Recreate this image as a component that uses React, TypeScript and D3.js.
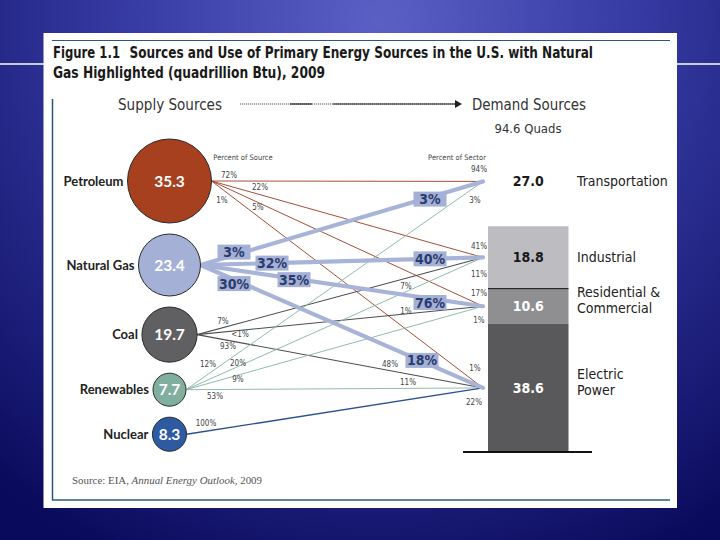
import * as d3 from 'd3';

// Supply side (quadrillion Btu)
const sources = ['Petroleum', 'Natural Gas', 'Coal', 'Renewables', 'Nuclear'];
const sourceQuads = [35.3, 23.4, 19.7, 7.7, 8.3];

// Demand side (quadrillion Btu)
const sectors = ['Transportation', 'Industrial', 'Residential & Commercial', 'Electric Power'];
const sectorLabelLines = [['Transportation'], ['Industrial'], ['Residential &', 'Commercial'], ['Electric', 'Power']];
const sectorQuads = [27.0, 18.8, 10.6, 38.6];
const totalQuads = '94.6 Quads';

// flows: percent of source / percent of sector
const flows = [
  { from: 'Petroleum', to: 'Transportation', ofSource: '72%', ofSector: '94%' },
  { from: 'Petroleum', to: 'Industrial', ofSource: '22%', ofSector: '41%' },
  { from: 'Petroleum', to: 'Residential & Commercial', ofSource: '5%', ofSector: '17%' },
  { from: 'Petroleum', to: 'Electric Power', ofSource: '1%', ofSector: '1%' },
  { from: 'Natural Gas', to: 'Transportation', ofSource: '3%', ofSector: '3%' },
  { from: 'Natural Gas', to: 'Industrial', ofSource: '32%', ofSector: '40%' },
  { from: 'Natural Gas', to: 'Residential & Commercial', ofSource: '35%', ofSector: '76%' },
  { from: 'Natural Gas', to: 'Electric Power', ofSource: '30%', ofSector: '18%' },
  { from: 'Coal', to: 'Industrial', ofSource: '7%', ofSector: '7%' },
  { from: 'Coal', to: 'Residential & Commercial', ofSource: '<1%', ofSector: '1%' },
  { from: 'Coal', to: 'Electric Power', ofSource: '93%', ofSector: '48%' },
  { from: 'Renewables', to: 'Transportation', ofSource: '12%', ofSector: '3%' },
  { from: 'Renewables', to: 'Industrial', ofSource: '20%', ofSector: '11%' },
  { from: 'Renewables', to: 'Residential & Commercial', ofSource: '9%', ofSector: '1%' },
  { from: 'Renewables', to: 'Electric Power', ofSource: '53%', ofSector: '11%' },
  { from: 'Nuclear', to: 'Electric Power', ofSource: '100%', ofSector: '22%' },
];

// label placement along each flow line: [x, dy] near the source, [x, dy] near the sector
const labelAt = [
  [229, -6, 479, -12], [260, -7, 479, -10], [258, 5, 479, -11], [222, 11, 475, -14],
  [234, -3, 430, 2], [272, 0, 430, 0], [294, 1, 430, 4], [234, 4, 422, -1],
  [223, -6, 406, 7.5], [240, 3.5, 406, -3], [228, 5.5, 390, -6],
  [208, -10, 475, 13], [238, -3, 479, 15], [238, 4.5, 479, 13], [215, 7, 408, -6],
  [206, -8, 474, 13],
];

const circleFill: Record<string, string> = {
  Petroleum: '#a6401f', 'Natural Gas': '#a4b0d6', Coal: '#606062', Renewables: '#80ae9f', Nuclear: '#2e5aa2',
};
const lineColor: Record<string, string> = {
  Petroleum: '#9a3b20', 'Natural Gas': '#a8b3d8', Coal: '#4d4d4f', Renewables: '#86b3a4', Nuclear: '#2b4f8f',
};
const lineWidth: Record<string, number> = {
  Petroleum: 0.9, 'Natural Gas': 4.2, Coal: 1.1, Renewables: 0.9, Nuclear: 1.4,
};
const barFill = ['#ffffff', '#bdbdc1', '#8f8f92', '#59595b'];
const barText = ['#1a1a1a', '#1a1a1a', '#ffffff', '#ffffff'];

const NARROW = "'DejaVu Sans Condensed', 'DejaVu Sans', sans-serif";
const LATO = "Lato, 'DejaVu Sans Condensed', sans-serif";
const TEAL = '#285a78';

export default function App() {
  const cx = 169.5;
  const rScale = d3.scaleLinear().domain([7.7, 35.3]).range([16.5, 42]);
  const radii = sourceQuads.map(v => rScale(v));
  const cy: number[] = [];
  let top = 139;
  radii.forEach(r => {
    cy.push(top + r);
    top += 2 * r + 11;
  });

  // stacked demand bar, electric power at the bottom
  const total = d3.sum(sectorQuads);
  const yBar = d3.scaleLinear().domain([0, total]).range([452, 452 - total * 3.32]);
  const seg: { lo: number; hi: number }[] = [];
  let acc = 0;
  for (let i = sectorQuads.length - 1; i >= 0; i--) {
    seg[i] = { lo: acc, hi: acc + sectorQuads[i] };
    acc += sectorQuads[i];
  }
  const barX = 488;
  const barW = 80.5;
  const nodeX = 483;
  const nodeY = seg.map(s => yBar((s.lo + s.hi) / 2));

  const link = flows.map((f, i) => {
    const si = sources.indexOf(f.from);
    const ti = sectors.indexOf(f.to);
    const x0 = cx + radii[si];
    const y0 = cy[si];
    const y1 = nodeY[ti];
    const yAt = d3.scaleLinear().domain([x0, nodeX]).range([y0, y1]);
    const [sx, sdy, tx, tdy] = labelAt[i];
    return { ...f, x0, y0, y1, src: [sx, yAt(sx) + sdy], sec: [tx, yAt(tx) + tdy] };
  });
  const lineGen = d3.line();
  const gas = link.filter(l => l.from === 'Natural Gas');
  const thin = link.filter(l => l.from !== 'Natural Gas');

  return (
    <div style={{ position: 'absolute', left: 0, top: 0 }}>
      <svg width={720} height={540} style={{ display: 'block' }}>
        <defs>
          <radialGradient id="bg" cx="380" cy="20" r="600" gradientUnits="userSpaceOnUse">
            <stop offset="0" stopColor="#5a60c4" />
            <stop offset="0.4" stopColor="#383da6" />
            <stop offset="1" stopColor="#0a0a5c" />
          </radialGradient>
        </defs>
        <rect width={720} height={540} fill="url(#bg)" />
        <line x1={0} x2={720} y1={64} y2={64} stroke="#ffffff" strokeWidth={1.5} />

        {/* white panel */}
        <rect x={43.5} y={33} width={633.5} height={475} fill="#ffffff" />
        <line x1={52} x2={670} y1={40.5} y2={40.5} stroke={TEAL} strokeWidth={1} />
        <line x1={52} x2={670} y1={500} y2={500} stroke={TEAL} strokeWidth={1.5} />
        <line x1={52.5} x2={52.5} y1={99} y2={500} stroke={TEAL} strokeWidth={1.5} />

        <g fontFamily={NARROW} fontWeight="bold" fontSize={15} fill="#1a1a1a">
          <text x={53} y={58} textLength={67} lengthAdjust="spacingAndGlyphs">Figure 1.1</text>
          <text x={129.5} y={58} textLength={463.5} lengthAdjust="spacingAndGlyphs">
            Sources and Use of Primary Energy Sources in the U.S. with Natural
          </text>
          <text x={53} y={78} textLength={272} lengthAdjust="spacingAndGlyphs">
            Gas Highlighted (quadrillion Btu), 2009
          </text>
        </g>

        {/* supply -> demand header */}
        <g fontFamily={NARROW} fontSize={15} fill="#333">
          <text x={118} y={110} textLength={104} lengthAdjust="spacingAndGlyphs">Supply Sources</text>
          <text x={472} y={110} textLength={114} lengthAdjust="spacingAndGlyphs">Demand Sources</text>
          <text x={528} y={133} fontSize={13} textAnchor="middle">{totalQuads}</text>
        </g>
        <line x1={240} x2={455} y1={104} y2={104} stroke="#555" strokeWidth={1} strokeDasharray="1.2 0.8" />
        <line x1={290} x2={312} y1={104} y2={104} stroke="#222" strokeWidth={1.2} />
        <line x1={333} x2={456} y1={104} y2={104} stroke="#222" strokeWidth={1.2} />
        <path d="M455,100 L462,104 L455,108 Z" fill="#222" />

        <g fontFamily={NARROW} fontSize={7.5} fill="#444">
          <text x={243} y={160} textAnchor="middle">Percent of Source</text>
          <text x={457} y={160} textAnchor="middle">Percent of Sector</text>
        </g>

        {/* demand bar */}
        {sectors.map((s, i) => (
          <rect key={s} x={barX} width={barW} y={yBar(seg[i].hi)} height={yBar(seg[i].lo) - yBar(seg[i].hi)} fill={barFill[i]} />
        ))}
        <line x1={barX} x2={barX + barW} y1={yBar(seg[1].lo)} y2={yBar(seg[1].lo)} stroke="#111" strokeWidth={1} />
        <line x1={463} x2={592} y1={yBar(0)} y2={yBar(0)} stroke="#111" strokeWidth={2} />
        <g fontFamily={NARROW} fontWeight="bold" fontSize={14} textAnchor="middle">
          {sectorQuads.map((v, i) => (
            <text key={i} x={barX + barW / 2} y={nodeY[i]} dy="0.35em" fill={barText[i]}>{v.toFixed(1)}</text>
          ))}
        </g>
        <g fontFamily={NARROW} fontSize={14} fill="#222">
          {sectorLabelLines.map((lines, i) =>
            lines.map((t, j) => (
              <text key={t} x={577} y={nodeY[i] + (j - (lines.length - 1) / 2) * 16 - (lines.length > 1 ? 6 : 0)} dy="0.35em">{t}</text>
            ))
          )}
        </g>

        {/* thin flows */}
        {thin.map((l, i) => (
          <path key={i} d={lineGen([[l.x0, l.y0], [nodeX, l.y1]]) || ''} stroke={lineColor[l.from]} strokeWidth={lineWidth[l.from]} fill="none" />
        ))}
        <g fontFamily={NARROW} fontSize={8} fill="#444" textAnchor="middle">
          {thin.map((l, i) => (
            <g key={i}>
              <text x={l.src[0]} y={l.src[1]} dy="0.35em">{l.ofSource}</text>
              <text x={l.sec[0]} y={l.sec[1]} dy="0.35em">{l.ofSector}</text>
            </g>
          ))}
        </g>

        {/* natural gas highlighted */}
        {gas.map((l, i) => (
          <path key={i} d={lineGen([[l.x0, l.y0], [nodeX, l.y1]]) || ''} stroke={lineColor[l.from]} strokeWidth={lineWidth[l.from]} fill="none" strokeLinecap="round" />
        ))}
        <g fontFamily={NARROW} fontWeight="bold" fontSize={14} fill="#2a3b6e" textAnchor="middle">
          {gas.map((l, i) => (
            <g key={i}>
              {[l.src, l.sec].map((p, k) => (
                <g key={k}>
                  <rect x={p[0] - 16.5} y={p[1] - 7.5} width={33} height={15} fill="#a4b0d6" />
                  <text x={p[0]} y={p[1]} dy="0.36em">{k === 0 ? l.ofSource : l.ofSector}</text>
                </g>
              ))}
            </g>
          ))}
        </g>

        {/* supply circles */}
        {sources.map((s, i) => (
          <g key={s}>
            <circle cx={cx} cy={cy[i]} r={radii[i]} fill={circleFill[s]} stroke="#2a2a2a" strokeWidth={1} />
            <text x={cx} y={cy[i]} dy="0.36em" textAnchor="middle" fontFamily={LATO} fontWeight="bold" fontSize={15.5} fill="#fff">
              {sourceQuads[i].toFixed(1)}
            </text>
            <text x={cx - radii[i] - 4} y={cy[i]} dy="0.35em" textAnchor="end" fontFamily={LATO} fontWeight="bold" fontSize={13} fill="#222">
              {s}
            </text>
          </g>
        ))}

        <text x={72} y={484} fontFamily="'Liberation Serif', serif" fontSize={10.5} fill="#555" textLength={190} lengthAdjust="spacingAndGlyphs">
          Source: EIA, <tspan fontStyle="italic">Annual Energy Outlook</tspan>, 2009
        </text>
      </svg>
    </div>
  );
}
